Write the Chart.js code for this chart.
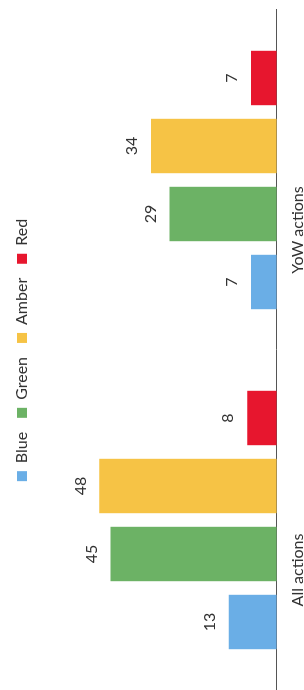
<!DOCTYPE html>
<html>
<head>
<meta charset="utf-8">
<title>Actions by status</title>
<script src="https://cdn.jsdelivr.net/npm/chart.js@4.4.1/dist/chart.umd.min.js"></script>
<style>
    html, body {
        margin: 0;
        padding: 0;
        background: #fff;
        overflow: hidden;
    }
    /* el grafico es horizontal, lo giramos para que quede como en la foto */
    #wrap {
        position: absolute;
        left: 0;
        top: 0;
        width: 690px;
        height: 304px;
        transform-origin: top left;
        transform: translateY(690px) rotate(-90deg);
    }
</style>
</head>
<body>
<div id="wrap">
    <canvas id="graficoAcciones" width="690" height="304"></canvas>
</div>

<script>
// DATOS DEL GRAFICO
const categories = ["All actions", "YoW actions"];
const seriesNames = ["Blue", "Green", "Amber", "Red"];
const blueValues = [13, 7];
const greenValues = [45, 29];
const amberValues = [48, 34];
const redValues = [8, 7];
const yTicks = [0, 60];

const colores = ["#6aaee6", "#6cb265", "#f6c345", "#e7162e"];
const fuente = "Lato, 'Liberation Sans', sans-serif";

// numeros encima de cada barra
const etiquetasValor = {
    id: "etiquetasValor",
    afterDatasetsDraw(chart) {
        const ctx = chart.ctx;
        ctx.save();
        ctx.font = "16px " + fuente;
        ctx.fillStyle = "#333";
        ctx.textAlign = "center";
        ctx.textBaseline = "bottom";
        chart.data.datasets.forEach((ds, i) => {
            chart.getDatasetMeta(i).data.forEach((bar, j) => {
                ctx.fillText(ds.data[j], bar.x, bar.y - 11);
            });
        });
        ctx.restore();
    }
};

// un poco mas de espacio debajo de la leyenda
const espacioLeyenda = {
    id: "espacioLeyenda",
    beforeInit(chart) {
        const fitOriginal = chart.legend.fit;
        chart.legend.fit = function () {
            fitOriginal.bind(chart.legend)();
            this.height += 15;
        };
    }
};

document.addEventListener("DOMContentLoaded", function () {
    const ctx = document.getElementById("graficoAcciones").getContext("2d");
    const valores = [blueValues, greenValues, amberValues, redValues];

    new Chart(ctx, {
        type: "bar",
        data: {
            labels: categories,
            datasets: seriesNames.map((nombre, i) => ({
                label: nombre,
                data: valores[i],
                backgroundColor: colores[i],
                barPercentage: 0.8,
                categoryPercentage: 0.8
            }))
        },
        options: {
            responsive: false,
            animation: false,
            layout: {
                padding: { left: 0, right: 10, top: 0, bottom: -6 }
            },
            plugins: {
                legend: {
                    position: "top",
                    labels: {
                        boxWidth: 10,
                        boxHeight: 10,
                        padding: 14,
                        color: "#333",
                        font: { family: fuente, size: 16 }
                    }
                },
                tooltip: { enabled: false }
            },
            scales: {
                x: {
                    grid: { display: false },
                    border: { display: true, color: "#555", width: 1 },
                    ticks: {
                        color: "#333",
                        labelOffset: -50,
                        font: { family: fuente, size: 16 }
                    }
                },
                y: {
                    display: false,
                    min: yTicks[0],
                    max: yTicks[1]
                }
            }
        },
        plugins: [etiquetasValor, espacioLeyenda]
    });
});
</script>
</body>
</html>
